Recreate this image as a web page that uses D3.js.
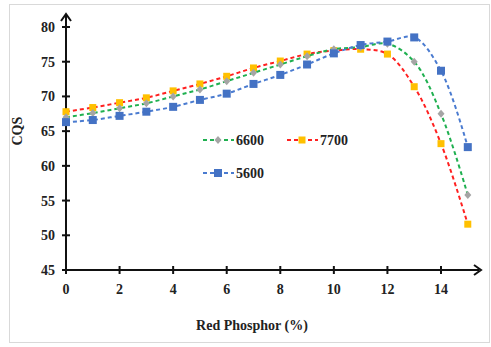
<!DOCTYPE html>
<html>
<head>
<meta charset="utf-8">
<script src="https://cdn.jsdelivr.net/npm/d3@7"></script>
<style>
  html, body { margin: 0; padding: 0; background: #fff; }
  svg text { font-family: "Liberation Serif", "Times New Roman", serif; font-weight: bold; fill: #222; }
</style>
</head>
<body>
<svg id="chart" width="491" height="347"></svg>
<script>
// data
var phosphor = [0, 1, 2, 3, 4, 5, 6, 7, 8, 9, 10, 11, 12, 13, 14, 15];
var cqs6600 = [67.0, 67.6, 68.3, 69.0, 70.0, 71.0, 72.2, 73.4, 74.6, 75.8, 76.8, 77.1, 77.6, 75.0, 67.5, 55.8];
var cqs7700 = [67.8, 68.4, 69.1, 69.8, 70.8, 71.8, 72.9, 74.1, 75.1, 76.1, 76.6, 76.8, 76.1, 71.4, 63.2, 51.6];
var cqs5600 = [66.3, 66.6, 67.2, 67.8, 68.5, 69.5, 70.4, 71.8, 73.1, 74.6, 76.2, 77.4, 77.9, 78.5, 73.7, 62.7];
var xTicks = [0, 2, 4, 6, 8, 10, 12, 14];
var yTicks = [45, 50, 55, 60, 65, 70, 75, 80];

var series = [
    { name: '7700', values: cqs7700, line: '#ff2020', marker: '#ffc000', shape: 'square', size: 7 },
    { name: '6600', values: cqs6600, line: '#1fb050', marker: '#a5a5a5', shape: 'diamond', size: 7 },
    { name: '5600', values: cqs5600, line: '#4a7bd0', marker: '#4472c4', shape: 'square', size: 8 }
];

var svg = d3.select('#chart');

// light frame around the chart
svg.append('rect')
    .attr('x', 9.5).attr('y', 4.5)
    .attr('width', 480).attr('height', 338)
    .attr('fill', 'none').attr('stroke', '#d9d9d9');

var x = d3.scaleLinear().domain([0, 14]).range([66, 441]);
var y = d3.scaleLinear().domain([45, 80]).range([270, 27]);

// axes
var axisColor = '#111';
svg.append('line')
    .attr('x1', x(0)).attr('x2', 479)
    .attr('y1', y(45)).attr('y2', y(45))
    .attr('stroke', axisColor).attr('stroke-width', 2);
svg.append('line')
    .attr('x1', x(0)).attr('x2', x(0))
    .attr('y1', y(45)).attr('y2', 15)
    .attr('stroke', axisColor).attr('stroke-width', 2);
// open arrow heads
svg.append('path')
    .attr('d', 'M' + (x(0) - 5) + ',21L' + x(0) + ',14L' + (x(0) + 5) + ',21')
    .attr('fill', 'none').attr('stroke', axisColor).attr('stroke-width', 2);
svg.append('path')
    .attr('d', 'M474,' + (y(45) - 5) + 'L481,' + y(45) + 'L474,' + (y(45) + 5))
    .attr('fill', 'none').attr('stroke', axisColor).attr('stroke-width', 2);

xTicks.forEach(function(t) {
    svg.append('line')
        .attr('x1', x(t)).attr('x2', x(t))
        .attr('y1', y(45) - 4).attr('y2', y(45) + 4)
        .attr('stroke', axisColor).attr('stroke-width', 2);
    svg.append('text')
        .attr('x', x(t)).attr('y', 294)
        .attr('text-anchor', 'middle')
        .style('font-size', '14px')
        .text(t);
});

yTicks.forEach(function(t) {
    svg.append('line')
        .attr('x1', x(0) - 4).attr('x2', x(0) + 4)
        .attr('y1', y(t)).attr('y2', y(t))
        .attr('stroke', axisColor).attr('stroke-width', 2);
    svg.append('text')
        .attr('x', 55).attr('y', y(t) + 5)
        .attr('text-anchor', 'end')
        .style('font-size', '14px')
        .text(t);
});

// axis titles
svg.append('text')
    .attr('transform', 'translate(22,' + y(65) + ') rotate(-90)')
    .attr('text-anchor', 'middle')
    .style('font-size', '14px')
    .text('CQS');
svg.append('text')
    .attr('x', 252).attr('y', 330)
    .attr('text-anchor', 'middle')
    .style('font-size', '14px')
    .text('Red Phosphor (%)');

function drawMarker(g, s, cx, cy) {
    var h = s.size / 2;
    if (s.shape === 'square') {
        g.append('rect')
            .attr('x', cx - h).attr('y', cy - h)
            .attr('width', s.size).attr('height', s.size)
            .attr('fill', s.marker);
    } else {
        g.append('path')
            .attr('d', 'M' + cx + ',' + (cy - h - 0.5) + 'L' + (cx + h) + ',' + cy + 'L' + cx + ',' + (cy + h + 0.5) + 'L' + (cx - h) + ',' + cy + 'Z')
            .attr('fill', s.marker);
    }
}

var line = d3.line()
    .x(function(d) { return x(d[0]); })
    .y(function(d) { return y(d[1]); })
    .curve(d3.curveCatmullRom.alpha(0.5));

series.forEach(function(s) {
    var pts = phosphor.map(function(p, i) { return [p, s.values[i]]; });
    var g = svg.append('g');
    g.append('path')
        .attr('d', line(pts))
        .attr('fill', 'none')
        .attr('stroke', s.line)
        .attr('stroke-width', 2)
        .attr('stroke-dasharray', '4,3');
    pts.forEach(function(p) { drawMarker(g, s, x(p[0]), y(p[1])); });
});

// legend
var legendItems = [
    { s: series[1], lx: 203, ly: 140 },
    { s: series[0], lx: 287, ly: 140 },
    { s: series[2], lx: 203, ly: 173 }
];
legendItems.forEach(function(it) {
    var g = svg.append('g');
    g.append('line')
        .attr('x1', it.lx).attr('x2', it.lx + 31)
        .attr('y1', it.ly).attr('y2', it.ly)
        .attr('stroke', it.s.line).attr('stroke-width', 2)
        .attr('stroke-dasharray', '4,3');
    drawMarker(g, it.s, it.lx + 15, it.ly);
    g.append('text')
        .attr('x', it.lx + 33).attr('y', it.ly + 5)
        .style('font-size', '14px')
        .text(it.s.name);
});
</script>
</body>
</html>
